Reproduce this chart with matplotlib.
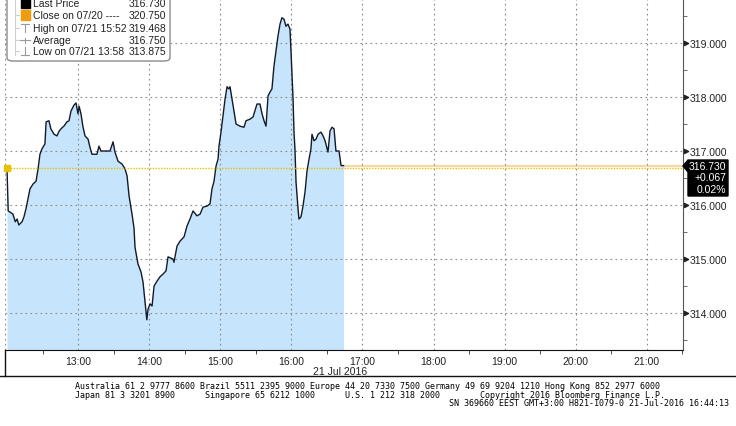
import numpy as np
import matplotlib
matplotlib.use("Agg")
import matplotlib.pyplot as plt
from matplotlib.patches import FancyBboxPatch, Polygon, Rectangle
from matplotlib.lines import Line2D

# intraday prices, minutes after 12:00 on 21 Jul 2016
minutes = [0, 1, 2.5, 5, 7, 8.5, 10, 12.7, 14.3, 16, 17.7, 19.4, 22, 24.5, 26.2, 27.8,
           29.5, 32, 33, 35.4, 37, 39.7, 42.2, 44, 46.4, 48, 50.6, 52.3, 54, 56.5, 58.2,
           59.9, 60.8, 62.4, 64, 65.8, 68.4, 70, 71.7, 73.4, 75.9, 77.6, 79.3, 86.9,
           89.5, 91.1, 93.7, 97, 99.6, 101.3, 103, 105.5, 107.2, 108, 110.5, 113.1,
           114.8, 116.5, 118, 119, 120.7, 122.4, 124.1, 126.6, 129.1, 131.6, 134.2,
           135.9, 140.1, 140.9, 143.5, 146, 149.4, 151.9, 154.4, 157, 160.3, 162.9,
           165.4, 168.8, 171.3, 173, 174.7, 176.4, 178.1, 178.9, 180.6, 182.3, 184,
           185.7, 187.3, 188.2, 189.9, 191.6, 193.3, 196.6, 200, 201.7, 205.1, 207.6,
           211, 213.5, 215.2, 216.9, 218.6, 220.3, 221.9, 223.6, 225.3, 227, 228.7,
           230.4, 232, 233.8, 235.4, 237.1, 238.8, 239.7, 241.4, 242.2, 243, 243.9,
           245.6, 246.4, 248.1, 249.8, 251.5, 253.2, 254.9, 256.5, 257.4, 259.1,
           260.8, 262.5, 265, 266.7, 268.4, 270.9, 272.6, 274.3, 276, 277.6, 280.2,
           281.9, 284]
prices = [316.67, 315.89, 315.87, 315.83, 315.69, 315.74, 315.63, 315.69, 315.78, 315.93,
          316.11, 316.30, 316.39, 316.44, 316.67, 316.94, 317.04, 317.13, 317.54,
          317.56, 317.41, 317.31, 317.28, 317.37, 317.43, 317.46, 317.54, 317.56,
          317.74, 317.85, 317.89, 317.69, 317.83, 317.69, 317.46, 317.28, 317.22,
          317.07, 316.94, 316.94, 316.94, 317.09, 317.00, 317.00, 317.17, 316.98,
          316.81, 316.76, 316.67, 316.54, 316.17, 315.83, 315.57, 315.22, 314.91,
          314.76, 314.57, 314.20, 313.875, 314.07, 314.17, 314.13, 314.50, 314.59,
          314.67, 314.72, 314.78, 315.04, 315.00, 314.94, 315.24, 315.33, 315.41,
          315.61, 315.74, 315.89, 315.80, 315.83, 315.96, 315.98, 316.02, 316.30,
          316.44, 316.72, 316.85, 317.09, 317.35, 317.65, 317.96, 318.19, 318.15,
          318.19, 317.96, 317.74, 317.50, 317.46, 317.44, 317.56, 317.59, 317.63,
          317.87, 317.87, 317.69, 317.56, 317.46, 318.02, 318.09, 318.15, 318.57,
          318.85, 319.13, 319.35, 319.468, 319.44, 319.31, 319.35, 319.26, 318.83,
          317.96, 317.35, 317.04, 316.43, 315.93, 315.74, 315.78, 315.98, 316.24,
          316.63, 316.85, 317.04, 317.31, 317.19, 317.22, 317.31, 317.35, 317.28,
          317.19, 316.98, 317.37, 317.44, 317.41, 317.00, 317.00, 316.73, 316.73]

open_price = 316.68
last_price = 316.73

hour_ticks = [60, 120, 180, 240, 300, 360, 420, 480, 540]
hour_labels = ["13:00", "14:00", "15:00", "16:00", "17:00", "18:00", "19:00", "20:00", "21:00"]
price_ticks = [314, 315, 316, 317, 318, 319]

legend_names = ["Last Price", "Close on 07/20 ----", "High on 07/21 15:52", "Average",
                "Low on 07/21 13:58"]
legend_values = ["316.730", "320.750", "319.468", "316.750", "313.875"]
badge_lines = ["316.730", "+0.067", "0.02%"]

footer_1 = ("Australia 61 2 9777 8600 Brazil 5511 2395 9000 Europe 44 20 7330 7500 "
            "Germany 49 69 9204 1210 Hong Kong 852 2977 6000")
footer_2 = ("Japan 81 3 3201 8900      Singapore 65 6212 1000      U.S. 1 212 318 2000"
            "        Copyright 2016 Bloomberg Finance L.P.")
footer_3 = "SN 369660 EEST GMT+3:00 H821-1079-0 21-Jul-2016 16:44:13"

W, H = 736, 427


def fx(x):
    return x / W


def fy(y):
    return 1 - y / H


fig = plt.figure(figsize=(W / 100, H / 100), dpi=100)
fig.patch.set_facecolor("white")
ax = fig.add_axes([fx(5), fy(351), fx(683) - fx(5), fy(0) - fy(351)])
ax.set_xlim(-1.7, 570.5)
ax.set_ylim(313.315, 319.815)

ax.fill_between(minutes, prices, 313.0, color="#c6e4fb", lw=0, zorder=1)
ax.plot(minutes, prices, color="#111a28", lw=1.0, zorder=3)

ax.axhline(open_price, color="#e6c200", lw=1.0, ls=(0, (1, 1)), zorder=4)
ax.plot([minutes[-1], 570.5], [last_price, last_price], color="#f4d9a6", lw=1.6, zorder=2)
ax.plot([0.3], [open_price], marker="s", ms=4, color="#e6c200", zorder=5, clip_on=False)

# grid
for p in price_ticks:
    ax.axhline(p, color="#8a8a8a", lw=0.8, ls=(0, (1.5, 3)), zorder=2)
for m in hour_ticks:
    ax.axvline(m, color="#8a8a8a", lw=0.8, ls=(0, (1.5, 3)), zorder=2)
ax.axvline(-1.5, color="#8a8a8a", lw=0.8, ls=(0, (1.5, 3)), zorder=2)

for s in ["top", "left"]:
    ax.spines[s].set_visible(False)
ax.spines["right"].set_color("#555555")
ax.spines["bottom"].set_color("#111111")

ax.yaxis.tick_right()
ax.set_yticks(price_ticks)
ax.set_yticklabels([f"{p:.3f}" for p in price_ticks])
ax.set_yticks([p + 0.5 for p in [313] + price_ticks], minor=True)
ax.tick_params(axis="y", which="major", length=0, pad=5, labelsize=7.5, labelcolor="#222222")
ax.tick_params(axis="y", which="minor", length=3, color="#555555", direction="out")
ax.scatter([1.004] * len(price_ticks), price_ticks, marker=">", s=9, color="#222222",
           transform=ax.get_yaxis_transform(), clip_on=False, zorder=6)

ax.set_xticks(hour_ticks)
ax.set_xticklabels(hour_labels)
ax.set_xticks([m - 30 for m in hour_ticks] + [570], minor=True)
ax.tick_params(axis="x", which="major", length=0, pad=4, labelsize=7.5, labelcolor="#222222")
ax.tick_params(axis="x", which="minor", length=3, color="#333333", direction="out")
for lab in ax.get_xticklabels() + ax.get_yticklabels():
    lab.set_family("Liberation Sans")

fig.text(fx(340), fy(372), "21 Jul 2016", ha="center", va="center", fontsize=7.5,
         family="Liberation Sans", color="#222222")
fig.add_artist(Line2D([0, 1], [fy(377), fy(377)], color="#111111", lw=1.0))
fig.add_artist(Line2D([fx(4.5), fx(4.5)], [fy(351), fy(377)], color="#111111", lw=1.0))

# price badge
badge = Polygon([(fx(683), fy(167)), (fx(688), fy(161)), (fx(728), fy(161)), (fx(728), fy(197)),
                 (fx(688), fy(197)), (fx(688), fy(173))], closed=True, facecolor="black",
                edgecolor="black", transform=fig.transFigure, zorder=10)
fig.add_artist(badge)
for i, t in enumerate(badge_lines):
    fig.text(fx(726), fy(167 + i * 11.5), t, ha="right", va="center", color="white",
             fontsize=7.5, family="Liberation Sans", zorder=11)

# legend box
box = FancyBboxPatch((fx(7), fy(62)), fx(170) - fx(7), fy(-12) - fy(62),
                     boxstyle="round,pad=0,rounding_size=0.008", facecolor="white",
                     edgecolor="#8c8c8c", lw=1.0, transform=fig.transFigure, zorder=12)
fig.add_artist(box)
rows = [4, 16, 29, 41, 52]
fig.add_artist(Line2D([fx(15), fx(15)], [fy(-5), fy(56)], color="#cfcfcf", lw=0.8, zorder=13))
for r in rows[1:]:
    fig.add_artist(Line2D([fx(15), fx(19)], [fy(r), fy(r)], color="#cfcfcf", lw=0.8, zorder=13))
fig.add_artist(Rectangle((fx(21), fy(rows[0] + 5)), fx(9), fy(0) - fy(10), color="black",
                         transform=fig.transFigure, zorder=13))
fig.add_artist(Rectangle((fx(21), fy(rows[1] + 5)), fx(9), fy(0) - fy(10), color="#f29b0c",
                         transform=fig.transFigure, zorder=13))
g = "#9a9a9a"
fig.add_artist(Line2D([fx(21), fx(29)], [fy(25), fy(25)], color=g, lw=0.8, zorder=13))
fig.add_artist(Line2D([fx(25), fx(25)], [fy(25), fy(33)], color=g, lw=0.8, zorder=13))
fig.add_artist(Line2D([fx(20), fx(30)], [fy(41), fy(41)], color=g, lw=0.8, zorder=13))
fig.add_artist(Line2D([fx(25), fx(25)], [fy(38.5), fy(43.5)], color=g, lw=0.8, zorder=13))
fig.add_artist(Line2D([fx(25), fx(25)], [fy(48), fy(56)], color=g, lw=0.8, zorder=13))
fig.add_artist(Line2D([fx(21), fx(29)], [fy(56), fy(56)], color=g, lw=0.8, zorder=13))
for r, name, val in zip(rows, legend_names, legend_values):
    fig.text(fx(33), fy(r), name, ha="left", va="center", fontsize=7.5,
             family="Liberation Sans", color="#222222", zorder=14)
    fig.text(fx(166), fy(r), val, ha="right", va="center", fontsize=7.5,
             family="Liberation Sans", color="#222222", zorder=14)

# footer
fig.text(fx(75), fy(387), footer_1, ha="left", va="center", fontsize=6.0,
         family="DejaVu Sans Mono", color="black")
fig.text(fx(75), fy(396), footer_2, ha="left", va="center", fontsize=6.0,
         family="DejaVu Sans Mono", color="black")
fig.text(fx(729), fy(404), footer_3, ha="right", va="center", fontsize=6.0,
         family="DejaVu Sans Mono", color="black")

fig.savefig("out.png", dpi=100)
